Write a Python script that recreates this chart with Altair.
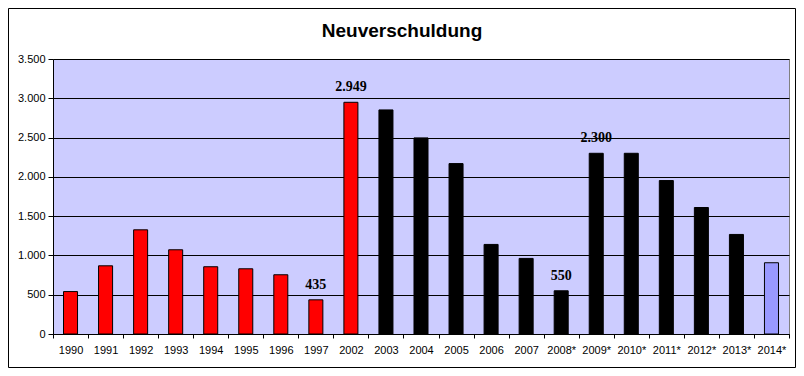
import altair as alt
import pandas as pd

years = ["1990", "1991", "1992", "1993", "1994", "1995", "1996", "1997", "2002",
         "2003", "2004", "2005", "2006", "2007", "2008*", "2009*", "2010*",
         "2011*", "2012*", "2013*", "2014*"]
values = [540, 868, 1326, 1072, 856, 830, 754, 435, 2949,
          2852, 2496, 2169, 1140, 962, 550, 2300, 2300,
          1953, 1610, 1267, 907]
groups = ["A"] * 9 + ["B"] * 11 + ["C"]
labels = ["", "", "", "", "", "", "", "435", "2.949",
          "", "", "", "", "", "550", "2.300", "",
          "", "", "", ""]
y_ticks = [0, 500, 1000, 1500, 2000, 2500, 3000, 3500]
title_text = "Neuverschuldung"

df = pd.DataFrame({"year": years, "value": values, "group": groups, "label": labels})

W, H = 736, 275

x_enc = alt.X(
    "year:N", sort=years,
    scale=alt.Scale(paddingInner=0, paddingOuter=0),
    axis=alt.Axis(title=None, labelAngle=0, tickBand="extent", tickSize=4,
                  labelPadding=6, domainColor="black", tickColor="black",
                  labelFont="Liberation Sans", labelFontSize=11, labelColor="black"),
)

y_enc = alt.Y("value:Q", scale=alt.Scale(domain=[0, 3500], nice=False, zero=True),
              axis=alt.Axis(title=None, values=y_ticks, labelOverlap=False,
                            labelExpr="replace(format(datum.value, ','), ',', '.')",
                            grid=True, gridColor="black", gridWidth=1, gridOpacity=1,
                            domainColor="black", tickColor="black", tickSize=5,
                            labelPadding=3, labelFont="Liberation Sans",
                            labelFontSize=11, labelColor="black"))

bars = alt.Chart(df).mark_bar(
    width=alt.RelativeBandSize(0.4), stroke="black", strokeWidth=1
).encode(
    x=x_enc,
    y=y_enc,
    color=alt.Color("group:N", legend=None,
                    scale=alt.Scale(domain=["A", "B", "C"],
                                    range=["#FF0000", "#000000", "#9999FF"])),
)

texts = alt.Chart(df).transform_filter("datum.label != ''").mark_text(
    baseline="bottom", dy=-8, font="Liberation Serif", fontWeight="bold",
    fontSize=14, color="black"
).encode(x=x_enc, y=y_enc, text="label:N")

title_df = pd.DataFrame({"t": [title_text]})
title = alt.Chart(title_df).mark_text(
    font="Liberation Sans", fontWeight="bold", fontSize=19, color="black",
    baseline="alphabetic", align="center"
).encode(text="t:N", x=alt.value(349), y=alt.value(-22))

frame = alt.Chart(title_df).mark_rect(
    fill=None, fillOpacity=0, stroke="black", strokeWidth=1
).encode(x=alt.value(-44.5), x2=alt.value(742.5), y=alt.value(-50.5), y2=alt.value(308.5))

chart = alt.layer(bars, texts, title, frame).properties(
    width=W, height=H,
    autosize=alt.AutoSizeParams(type="none"),
    padding={"left": 45, "top": 51, "right": 7, "bottom": 34},
).configure(
    background="white"
).configure_view(
    fill="#CCCCFF", stroke="#808080", strokeWidth=1
)

chart.save("out.html", embed_options={"renderer": "svg", "actions": False})
